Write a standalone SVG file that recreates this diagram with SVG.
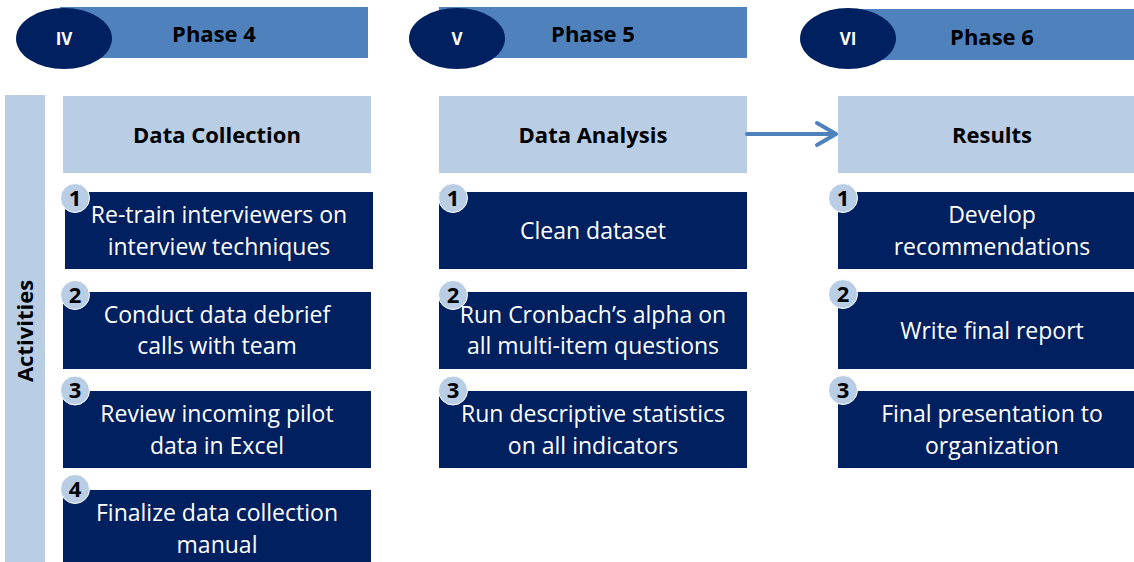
<svg xmlns="http://www.w3.org/2000/svg" width="1134" height="562" viewBox="0 0 1134 562">
<style>
.bar{fill:#4F81BD}
.ell{fill:#002060}
.roman{font-family:"Open Sans","Liberation Sans",sans-serif;font-weight:bold;font-size:17px;fill:#fff;text-anchor:middle}
.phase{font-family:"Open Sans","Liberation Sans",sans-serif;font-weight:bold;font-size:22px;fill:#000;text-anchor:middle}
.hdr{fill:#B9CDE5}
.hdrt{font-family:"Open Sans","Liberation Sans",sans-serif;font-weight:bold;font-size:22px;fill:#000;text-anchor:middle}
.box{fill:#002060}
.bt{font-family:"Open Sans","Liberation Sans",sans-serif;font-size:23px;fill:#fff;text-anchor:middle}
.num{fill:#B9CDE5;stroke:#fff;stroke-width:1}
.numt{font-family:"Open Sans","Liberation Sans",sans-serif;font-weight:bold;font-size:22px;fill:#000;text-anchor:middle}
.side{fill:#B9CDE5}
.conn{stroke:#4F81BD;stroke-width:4;fill:none;stroke-linecap:round;stroke-linejoin:round}
</style>
<rect width="1134" height="562" fill="#fff"/>

<g id="activities">
<rect class="side" x="5" y="95" width="40" height="467"/>
<text class="hdrt" transform="translate(33,331) rotate(-90)">Activities</text>
</g>

<g id="phase4">
<rect class="bar" x="60" y="7" width="308" height="51"/>
<ellipse class="ell" cx="64" cy="38.5" rx="48" ry="30.5"/>
<text class="roman" x="64" y="45">IV</text>
<text class="phase" x="214" y="42">Phase 4</text>
</g>
<g id="phase5">
<rect class="bar" x="439" y="7" width="308" height="51"/>
<ellipse class="ell" cx="457" cy="38.5" rx="48" ry="30.5"/>
<text class="roman" x="457" y="45">V</text>
<text class="phase" x="593" y="42">Phase 5</text>
</g>
<g id="phase6">
<rect class="bar" x="838" y="9" width="300" height="51"/>
<ellipse class="ell" cx="848" cy="38.5" rx="48" ry="30.5"/>
<text class="roman" x="848" y="45">VI</text>
<text class="phase" x="992" y="45">Phase 6</text>
</g>

<g id="data-collection">
<rect class="hdr" x="63" y="96" width="308" height="77"/>
<text class="hdrt" x="217" y="143">Data Collection</text>
</g>
<g id="data-analysis">
<rect class="hdr" x="439" y="96" width="308" height="77"/>
<text class="hdrt" x="593" y="143">Data Analysis</text>
</g>
<g id="results">
<rect class="hdr" x="838" y="96" width="300" height="77"/>
<text class="hdrt" x="992" y="143">Results</text>
</g>

<g id="connectors">
<line class="conn" x1="747" y1="134" x2="835" y2="134"/>
<polyline class="conn" points="817,123 836,134 817,145"/>
</g>

<g id="c1-a1">
<rect class="box" x="65" y="192" width="308" height="77"/>
<text class="bt" x="219" y="223">Re-train interviewers on</text>
<text class="bt" x="219" y="255">interview techniques</text>
<circle class="num" cx="75" cy="198" r="14.5"/>
<text class="numt" x="75" y="206">1</text>
</g>
<g id="c1-a2">
<rect class="box" x="63" y="292" width="308" height="77"/>
<text class="bt" x="217" y="323">Conduct data debrief</text>
<text class="bt" x="217" y="354">calls with team</text>
<circle class="num" cx="75" cy="295" r="14.5"/>
<text class="numt" x="75" y="303">2</text>
</g>
<g id="c1-a3">
<rect class="box" x="63" y="391" width="308" height="77"/>
<text class="bt" x="217" y="422">Review incoming pilot</text>
<text class="bt" x="217" y="454">data in Excel</text>
<circle class="num" cx="75" cy="390.5" r="14.5"/>
<text class="numt" x="75" y="398">3</text>
</g>
<g id="c1-a4">
<rect class="box" x="63" y="490" width="308" height="77"/>
<text class="bt" x="217" y="521">Finalize data collection</text>
<text class="bt" x="217" y="553">manual</text>
<circle class="num" cx="75" cy="489" r="14.5"/>
<text class="numt" x="75" y="497">4</text>
</g>

<g id="c2-a1">
<rect class="box" x="439" y="192" width="308" height="77"/>
<text class="bt" x="593" y="239">Clean dataset</text>
<circle class="num" cx="453" cy="198" r="14.5"/>
<text class="numt" x="453" y="206">1</text>
</g>
<g id="c2-a2">
<rect class="box" x="439" y="292" width="308" height="77"/>
<text class="bt" x="593" y="323">Run Cronbach’s alpha on</text>
<text class="bt" x="593" y="354">all multi-item questions</text>
<circle class="num" cx="453" cy="295" r="14.5"/>
<text class="numt" x="453" y="303">2</text>
</g>
<g id="c2-a3">
<rect class="box" x="439" y="391" width="308" height="77"/>
<text class="bt" x="593" y="422">Run descriptive statistics</text>
<text class="bt" x="593" y="454">on all indicators</text>
<circle class="num" cx="453" cy="390.5" r="14.5"/>
<text class="numt" x="453" y="398">3</text>
</g>

<g id="c3-a1">
<rect class="box" x="838" y="192" width="300" height="77"/>
<text class="bt" x="992" y="223">Develop</text>
<text class="bt" x="992" y="255">recommendations</text>
<circle class="num" cx="843" cy="198" r="14.5"/>
<text class="numt" x="843" y="206">1</text>
</g>
<g id="c3-a2">
<rect class="box" x="838" y="292" width="300" height="77"/>
<text class="bt" x="992" y="339">Write final report</text>
<circle class="num" cx="843" cy="294" r="14.5"/>
<text class="numt" x="843" y="302">2</text>
</g>
<g id="c3-a3">
<rect class="box" x="838" y="391" width="300" height="77"/>
<text class="bt" x="992" y="422">Final presentation to</text>
<text class="bt" x="992" y="454">organization</text>
<circle class="num" cx="843" cy="390" r="14.5"/>
<text class="numt" x="843" y="398">3</text>
</g>
</svg>
